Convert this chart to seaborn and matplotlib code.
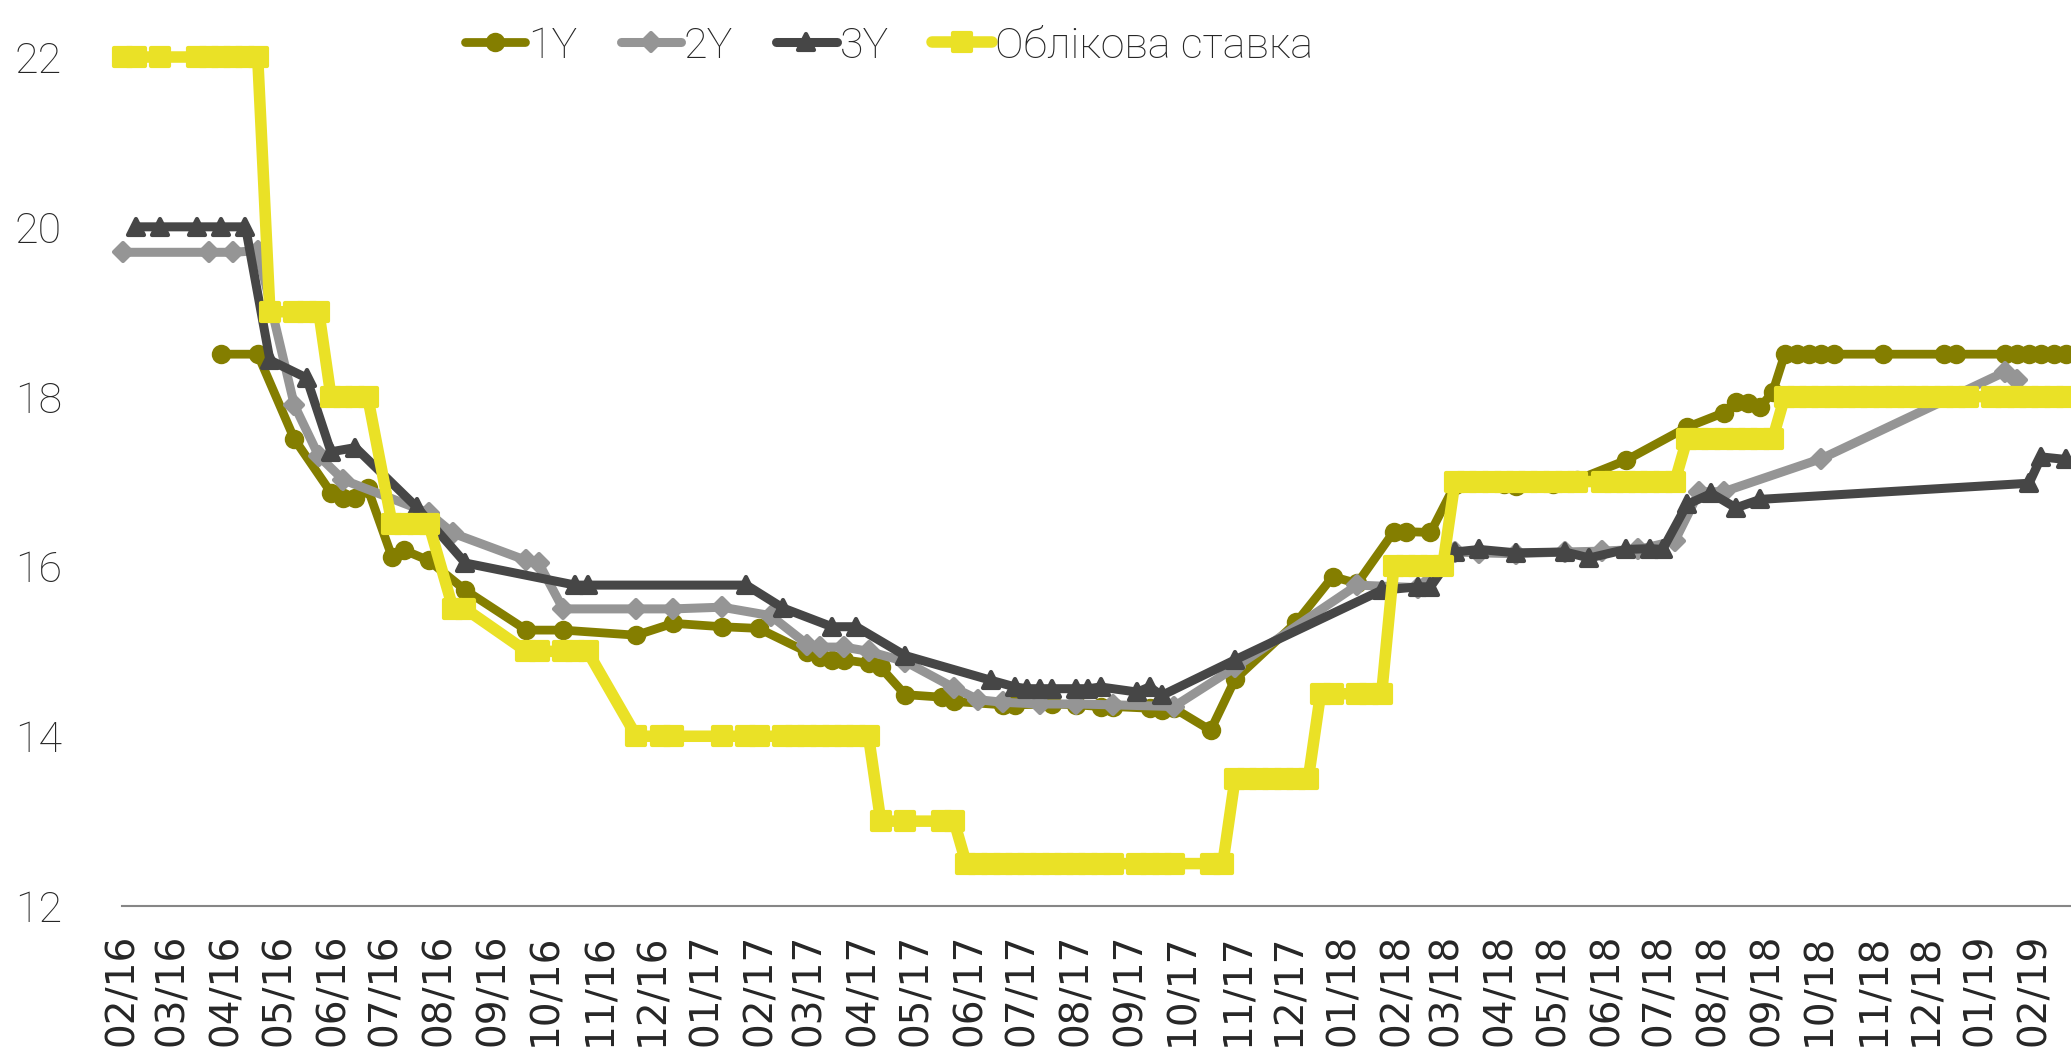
import pandas as pd
import matplotlib
matplotlib.use('Agg')
import matplotlib.pyplot as plt
import matplotlib.dates as mdates
from matplotlib.markers import MarkerStyle
import seaborn as sns

# policy rate (step series, weekly auction dates)
rate_dates = [
    '2016-02-02', '2016-02-09', '2016-02-23', '2016-03-15', '2016-03-22', '2016-03-29', '2016-04-05', '2016-04-12', '2016-04-19',
    '2016-04-26', '2016-05-10', '2016-05-17', '2016-05-24',
    '2016-05-31', '2016-06-07', '2016-06-14', '2016-06-21',
    '2016-07-05', '2016-07-12', '2016-07-19', '2016-07-26',
    '2016-08-09', '2016-08-16',
    '2016-09-20', '2016-09-27', '2016-10-11', '2016-10-18', '2016-10-25',
    '2016-11-22', '2016-12-06', '2016-12-13', '2017-01-10', '2017-01-24', '2017-01-31', '2017-02-14', '2017-02-21',
    '2017-02-28', '2017-03-07', '2017-03-14', '2017-03-21', '2017-03-28', '2017-04-04',
    '2017-04-11', '2017-04-25', '2017-05-16', '2017-05-23',
    '2017-05-30', '2017-06-06', '2017-06-13', '2017-06-20', '2017-06-27', '2017-07-04', '2017-07-11', '2017-07-18',
    '2017-07-25', '2017-08-01', '2017-08-08', '2017-08-15', '2017-08-22', '2017-09-05', '2017-09-12', '2017-09-19',
    '2017-09-26', '2017-10-17', '2017-10-24',
    '2017-10-31', '2017-11-07', '2017-11-14', '2017-11-21', '2017-11-28', '2017-12-05', '2017-12-12',
    '2017-12-19', '2017-12-26', '2018-01-09', '2018-01-16', '2018-01-23',
    '2018-01-30', '2018-02-06', '2018-02-13', '2018-02-20', '2018-02-27',
    '2018-03-06', '2018-03-13', '2018-03-20', '2018-03-27', '2018-04-03', '2018-04-10', '2018-04-17', '2018-04-24',
    '2018-05-01', '2018-05-08', '2018-05-15', '2018-05-29', '2018-06-05', '2018-06-12', '2018-06-19', '2018-06-26',
    '2018-07-03', '2018-07-10',
    '2018-07-17', '2018-07-24', '2018-07-31', '2018-08-07', '2018-08-14', '2018-08-21', '2018-08-28', '2018-09-04',
    '2018-09-11', '2018-09-18', '2018-09-25', '2018-10-02', '2018-10-09', '2018-10-16', '2018-10-23', '2018-10-30',
    '2018-11-06', '2018-11-13', '2018-11-20', '2018-11-27', '2018-12-04', '2018-12-11', '2018-12-18', '2018-12-25',
    '2019-01-08', '2019-01-15', '2019-01-22', '2019-01-29', '2019-02-05', '2019-02-12', '2019-02-19',
]
rate_values = (
    [22] * 9 + [19] * 4 + [18] * 4 + [16.5] * 4 + [15.5] * 2 + [15] * 5 + [14] * 14
    + [13] * 4 + [12.5] * 19 + [13.5] * 7 + [14.5] * 5 + [16] * 5 + [17] * 18
    + [17.5] * 8 + [18] * 23
)

y1_dates = [
    '2016-03-29', '2016-04-19', '2016-05-10', '2016-05-31', '2016-06-07', '2016-06-14', '2016-06-21', '2016-07-05',
    '2016-07-12', '2016-07-26', '2016-08-16', '2016-09-20', '2016-10-11', '2016-11-22', '2016-12-13', '2017-01-10',
    '2017-01-31', '2017-02-28', '2017-03-07', '2017-03-14', '2017-03-21', '2017-04-04', '2017-04-11', '2017-04-25',
    '2017-05-16', '2017-05-23', '2017-06-20', '2017-06-27', '2017-07-18', '2017-08-01', '2017-08-15', '2017-08-22',
    '2017-09-12', '2017-09-19', '2017-09-26', '2017-10-17', '2017-10-31', '2017-12-05', '2017-12-26', '2018-01-09',
    '2018-01-30', '2018-02-06', '2018-02-20', '2018-03-06', '2018-04-03', '2018-04-10', '2018-05-01', '2018-05-15',
    '2018-06-12', '2018-07-17', '2018-08-07', '2018-08-14', '2018-08-21', '2018-08-28', '2018-09-04', '2018-09-11',
    '2018-09-18', '2018-09-25', '2018-10-02', '2018-10-09', '2018-11-06', '2018-12-11', '2018-12-18', '2019-01-15',
    '2019-01-22', '2019-01-29', '2019-02-05', '2019-02-12', '2019-02-19',
]
y1_values = [
    18.50, 18.50, 17.50, 16.87, 16.81, 16.81, 16.92, 16.11,
    16.19, 16.07, 15.72, 15.25, 15.25, 15.19, 15.33, 15.29,
    15.27, 14.99, 14.93, 14.90, 14.90, 14.86, 14.81, 14.49,
    14.46, 14.41, 14.37, 14.37, 14.38, 14.37, 14.35, 14.35,
    14.33, 14.31, 14.33, 14.07, 14.67, 15.34, 15.88, 15.80,
    16.41, 16.41, 16.40, 16.96, 16.97, 16.95, 16.97, 17.02,
    17.25, 17.64, 17.81, 17.94, 17.93, 17.88, 18.05, 18.50,
    18.50, 18.50, 18.50, 18.50, 18.50, 18.50, 18.50, 18.50,
    18.50, 18.50, 18.50, 18.50, 18.50,
]

y2_dates = [
    '2016-02-02', '2016-03-22', '2016-04-05', '2016-04-19', '2016-05-10', '2016-05-24', '2016-06-07', '2016-07-26',
    '2016-08-09', '2016-09-20', '2016-09-27', '2016-10-11', '2016-11-22', '2016-12-13', '2017-01-10', '2017-02-07',
    '2017-02-28', '2017-03-07', '2017-03-21', '2017-04-04', '2017-04-25', '2017-05-23', '2017-06-06', '2017-06-20',
    '2017-07-11', '2017-08-01', '2017-08-22', '2017-09-26', '2017-10-31', '2018-01-09', '2018-02-13', '2018-03-06',
    '2018-03-20', '2018-04-10', '2018-05-08', '2018-05-29', '2018-06-19', '2018-07-10', '2018-07-24', '2018-08-07',
    '2018-10-02', '2019-01-15', '2019-01-22',
]
y2_values = [
    19.70, 19.70, 19.70, 19.72, 17.90, 17.30, 17.02, 16.63,
    16.39, 16.07, 16.04, 15.50, 15.50, 15.50, 15.52, 15.42,
    15.08, 15.05, 15.05, 15.00, 14.88, 14.57, 14.43, 14.40,
    14.38, 14.38, 14.37, 14.35, 14.81, 15.78, 15.75, 16.17,
    16.16, 16.15, 16.17, 16.18, 16.20, 16.30, 16.88, 16.88,
    17.27, 18.29, 18.20,
]

y3_dates = [
    '2016-02-09', '2016-02-23', '2016-03-15', '2016-03-29', '2016-04-12', '2016-04-26', '2016-05-17', '2016-05-31',
    '2016-06-14', '2016-07-19', '2016-08-16', '2016-10-18', '2016-10-25', '2017-01-24', '2017-02-14', '2017-03-14',
    '2017-03-28', '2017-04-25', '2017-06-13', '2017-06-27', '2017-07-04', '2017-07-11', '2017-07-18', '2017-08-01',
    '2017-08-08', '2017-08-15', '2017-09-05', '2017-09-12', '2017-09-19', '2017-10-31', '2018-01-23', '2018-02-13',
    '2018-02-20', '2018-03-06', '2018-03-20', '2018-04-10', '2018-05-08', '2018-05-22', '2018-06-12', '2018-06-26',
    '2018-07-03', '2018-07-17', '2018-07-31', '2018-08-14', '2018-08-28', '2019-01-29', '2019-02-05', '2019-02-19',
]
y3_values = [
    20.00, 20.00, 20.00, 20.00, 20.00, 18.43, 18.22, 17.35,
    17.40, 16.70, 16.04, 15.78, 15.78, 15.78, 15.51, 15.29,
    15.29, 14.95, 14.66, 14.58, 14.56, 14.56, 14.56, 14.56,
    14.56, 14.58, 14.52, 14.58, 14.48, 14.90, 15.72, 15.76,
    15.76, 16.17, 16.20, 16.16, 16.17, 16.10, 16.20, 16.21,
    16.20, 16.73, 16.86, 16.69, 16.79, 16.98, 17.29, 17.26,
]

sns.set_style('white')
plt.rcParams['font.family'] = ['Roboto', 'DejaVu Sans']

fig = plt.figure(figsize=(20.71, 10.56), dpi=100)
ax = fig.add_axes([0.0587, 0.142, 0.9413, 0.804])

series = [
    ('1Y', y1_dates, y1_values, '#847E00', 'o', 6.3, 11),
    ('2Y', y2_dates, y2_values, '#959595', 'D', 6.5, 9),
    ('3Y', y3_dates, y3_values, '#464646', '^', 6.5, 11),
    ('Облікова ставка', rate_dates, rate_values, '#EAE126', 's', 8.3, 13),
]
for name, dates, vals, color, marker, lw, ms in series:
    df = pd.DataFrame({'date': pd.to_datetime(dates), 'value': vals})
    sns.lineplot(data=df, x='date', y='value', ax=ax, label=name, color=color,
                 estimator=None, marker=MarkerStyle(marker, joinstyle='round'),
                 lw=lw, markersize=ms, markeredgewidth=3, markeredgecolor=color,
                 solid_joinstyle='round', solid_capstyle='round', clip_on=False)

ax.set_xlim(pd.Timestamp('2016-02-01'), pd.Timestamp('2019-02-22'))
ax.set_ylim(12, 22)
ax.set_yticks([12, 14, 16, 18, 20, 22])
ax.xaxis.set_major_locator(mdates.MonthLocator())
ax.xaxis.set_major_formatter(mdates.DateFormatter('%m/%y'))
ax.set_xlabel('')
ax.set_ylabel('')

ax.tick_params(axis='x', direction='out', length=13, width=1, color='#868686',
               labelsize=28, pad=7, labelrotation=90)
ax.tick_params(axis='y', length=0, pad=43, labelsize=31)
for lbl in ax.get_xticklabels():
    lbl.set_fontfamily('DejaVu Sans')
for lbl in ax.get_yticklabels():
    lbl.set_fontweight('light')

for s in ['top', 'right', 'left']:
    ax.spines[s].set_visible(False)
ax.spines['bottom'].set_color('#868686')
ax.spines['bottom'].set_linewidth(1.5)

ax.legend(loc='center left', bbox_to_anchor=(465 / 2071, 1 - 46 / 1056),
          bbox_transform=fig.transFigure, ncol=4, frameon=False,
          prop={'size': 31, 'weight': 'light'}, borderpad=0, borderaxespad=0,
          handlelength=1.4, handletextpad=0.07, columnspacing=1.0)

fig.savefig('out.png', dpi=100)
